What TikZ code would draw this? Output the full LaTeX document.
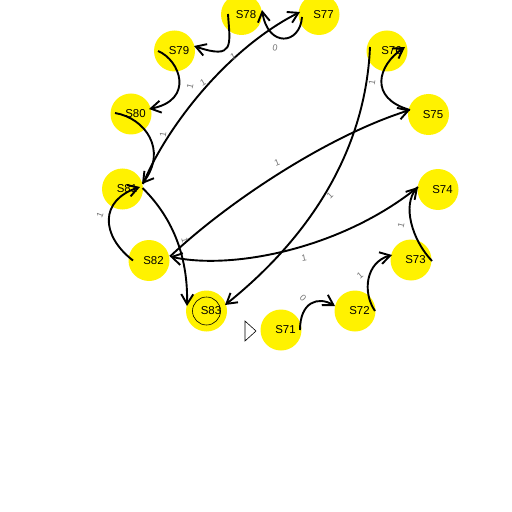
\documentclass[tikz,border=0pt]{standalone}
\usepackage{fontspec}
\setmainfont{Liberation Sans}
\usetikzlibrary{arrows.meta,calc}
\begin{document}
\begin{tikzpicture}[x=1bp,y=-1bp,
  state/.style={circle,fill=yellow,minimum size=41bp,inner sep=0pt,font=\fontsize{11.5}{13}\selectfont},
  edge/.style={line width=1.9bp,-{Straight Barb[length=10bp,width=12bp,line width=1.9bp]}},
  lbl/.style={font=\fontsize{9}{10}\selectfont,text=black!55,inner sep=0pt}]
\useasboundingbox (0,0) rectangle (512,512);
% states
\node[state] (S71) at (281,330) {\hspace*{9bp}S71};
\node[state] (S72) at (355,311) {\hspace*{9bp}S72};
\node[state] (S73) at (411,260) {\hspace*{9bp}S73};
\node[state] (S74) at (438,189.5) {\hspace*{9bp}S74};
\node[state] (S75) at (428.5,114.5) {\hspace*{9bp}S75};
\node[state] (S76) at (387,51) {\hspace*{9bp}S76};
\node[state] (S77) at (319,14.5) {\hspace*{9bp}S77};
\node[state] (S78) at (241.5,14.5) {\hspace*{9bp}S78};
\node[state] (S79) at (174.5,51) {\hspace*{9bp}S79};
\node[state] (S80) at (131,114) {\hspace*{9bp}S80};
\node[state] (S81) at (122.5,189) {\hspace*{9bp}S81};
\node[state] (S82) at (149,260.5) {\hspace*{9bp}S82};
\node[state] (S83) at (206.5,311) {\hspace*{9bp}S83};
\draw[line width=0.6bp] (S83.center) circle (14);
% start marker
\draw[line width=0.6bp] (245,321) -- (256,331) -- (245,341) -- cycle;
% edges
\draw[edge] ($(S71.center)+(19,0)$) .. controls (300,302) and (318,296) .. ($(S72.center)+(-20,-5)$);
\draw[edge] ($(S72.center)+(20,0)$) .. controls (362,292) and (366,262) .. ($(S73.center)+(-19,-5)$);
\draw[edge] ($(S73.center)+(21,1)$) .. controls (412,240) and (402,205) .. ($(S74.center)+(-20,-2.5)$);
\draw[edge] ($(S74.center)+(-20,-2.5)$) .. controls (340,250) and (230,270) .. ($(S82.center)+(21,-4)$);
\draw[edge] ($(S82.center)+(21,-4)$) .. controls (230,200) and (330,135) .. ($(S75.center)+(-18.5,-4.5)$);
\draw[edge] ($(S75.center)+(-18.5,-4.5)$) .. controls (368,98) and (378,65) .. ($(S76.center)+(18,-4)$);
\draw[edge] ($(S76.center)+(-17,-4)$) .. controls (365,160) and (300,245) .. ($(S83.center)+(18.5,-6)$);
\draw[edge] ($(S77.center)+(-17,2.5)$) .. controls (300,45) and (268,48) .. ($(S78.center)+(20.5,-4.5)$);
\draw[edge] ($(S78.center)+(-13.5,-0.5)$) .. controls (230,45) and (235,60) .. ($(S79.center)+(19.5,-5)$);
\draw[edge] ($(S79.center)+(-16.5,0)$) .. controls (180,60) and (195,100) .. ($(S80.center)+(18,-5)$);
\draw[edge] ($(S80.center)+(-16,-1)$) .. controls (145,118) and (168,150) .. ($(S81.center)+(19.5,-5)$);
\draw[edge] ($(S81.center)+(20.5,-5)$) .. controls (165,130) and (225,50) .. ($(S77.center)+(-19,-2.5)$);
\draw[edge] ($(S81.center)+(20,-1)$) .. controls (175,220) and (188,260) .. ($(S83.center)+(-19.5,-5)$);
\draw[edge] ($(S82.center)+(-16,0)$) .. controls (100,235) and (100,200) .. ($(S81.center)+(17.5,-2)$);
% labels
\node[lbl,rotate=-45] (L1) at (303,298) {0};
\node[lbl,rotate=40] (L2) at (360,276) {1};
\node[lbl,rotate=75] (L3) at (401,225) {1};
\node[lbl,rotate=10] (L4) at (304,258) {1};
\node[lbl,rotate=22] (L5) at (277,163) {1};
\node[lbl,rotate=80] (L6) at (372,83) {1};
\node[lbl,rotate=45] (L7) at (330,196) {1};
\node[lbl,rotate=-10] (L8) at (275,48) {0};
\node[lbl,rotate=25] (L9) at (233,57) {1};
\node[lbl,rotate=75] (L10) at (190,86) {1};
\node[lbl,rotate=80] (L11) at (163,135) {1};
\node[lbl,rotate=30] (L12) at (203,83) {1};
\node[lbl,rotate=-78] (L13) at (185,240) {1};
\node[lbl,rotate=68] (L14) at (100,215) {1};
\end{tikzpicture}
\end{document}
